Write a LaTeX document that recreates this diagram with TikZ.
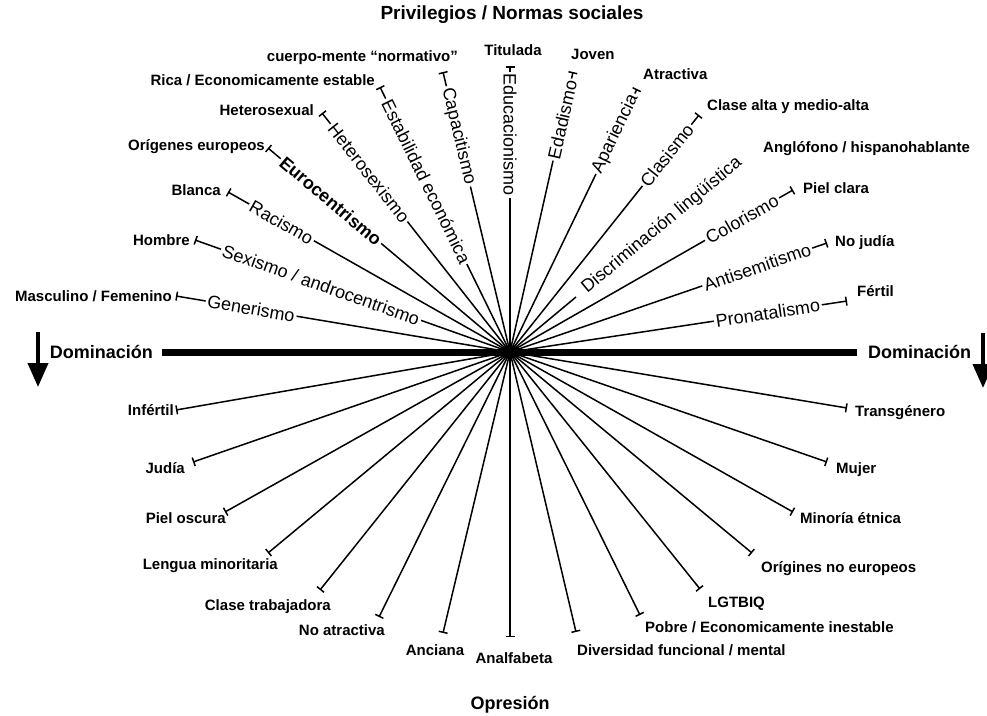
\documentclass[tikz,border=0pt]{standalone}
\usepackage{fontspec}
\setmainfont{Liberation Sans}
\usetikzlibrary{arrows.meta,positioning}

\begin{document}
\begin{tikzpicture}[
  x=1pt, y=-1pt,
  ray/.style={{Bar[width=9pt,line width=1.5pt]}-,line width=1.5pt},
  lab/.style={font=\bfseries\fontsize{15}{18}\selectfont,inner sep=0pt,text height=0.75em,text depth=0.2em,yshift=-3pt},
  rlab/.style={sloped,fill=white,inner sep=2pt,font=\fontsize{18}{20}\selectfont},
  head/.style={font=\bfseries\fontsize{18}{22}\selectfont,inner sep=0pt},
  dom/.style={-{Triangle[width=20pt,length=24pt]},line width=4pt}
]
\useasboundingbox (0,0) rectangle (987,715);
% centre and end points
\coordinate (c) at (510,352);
\coordinate (p1) at (176,296);  \coordinate (p2) at (195,240);
\coordinate (p3) at (228,192);  \coordinate (p4) at (268,148);
\coordinate (p5) at (322,113);  \coordinate (p6) at (380,87);
\coordinate (p7) at (443,72);   \coordinate (p8) at (510,66);
\coordinate (p9) at (573,72);   \coordinate (p10) at (637,89);
\coordinate (p11) at (699,115); \coordinate (p12) at (576,297);
\coordinate (p13) at (793,190); \coordinate (p14) at (827,243);
\coordinate (p15) at (847,301);
\coordinate (q1) at (176,410);  \coordinate (q2) at (193,462);
\coordinate (q3) at (225,512);  \coordinate (q4) at (268,553);
\coordinate (q5) at (320,590);  \coordinate (q6) at (379,617);
\coordinate (q7) at (443,633);  \coordinate (q8) at (510,637);
\coordinate (q9) at (576,632);  \coordinate (q10) at (640,615);
\coordinate (q11) at (700,589); \coordinate (q12) at (752,553);
\coordinate (q13) at (793,512); \coordinate (q14) at (827,462);
\coordinate (q15) at (847,408);
% dominacion axis
\coordinate (dl) at (162,352); \coordinate (dr) at (857,352);
\draw[line width=7pt] (dl) -- (dr);
\node[head,left=9pt of dl] (domL) {Dominación};
\node[head,right=11pt of dr] (domR) {Dominación};
\coordinate (aL1) at (38,332); \coordinate (aL2) at (38,387);
\coordinate (aR1) at (983,333); \coordinate (aR2) at (983,388);
\draw[dom] (aL1) -- (aL2);
\draw[dom] (aR1) -- (aR2);
% privileges (top half)
\draw[ray] (p1) -- node[rlab,pos=.225] {Generismo} (c);
\draw[ray] (p2) -- node[rlab,pos=.40] {Sexismo / androcentrismo} (c);
\draw[ray] (p3) -- node[rlab,pos=.19] {Racismo} (c);
\draw[ray] (p4) -- node[rlab,pos=.26,font=\bfseries\fontsize{18}{20}\selectfont] {Eurocentrismo} (c);
\draw[ray] (p5) -- node[rlab,pos=.25] {Heterosexismo} (c);
\draw[ray] (p6) -- node[rlab,pos=.356] {Estabilidad económica} (c);
\draw[ray] (p7) -- node[rlab,pos=.23] {Capacitismo} (c);
\draw[ray] (p8) -- node[rlab,pos=.24] {Educacionismo} (c);
\draw[ray] (p9) -- node[rlab,pos=.17] {Edadismo} (c);
\draw[ray] (p10) -- node[rlab,pos=.17] {Apariencia} (c);
\draw[ray] (p11) -- node[rlab,pos=.17] {Clasismo} (c);
\draw[line width=1.5pt] (c) -- (p12);
\path (c) -- (p12) node[rlab,pos=1.1,anchor=west] (disc) {Discriminación lingüística};
\draw[ray] (p13) -- node[rlab,pos=.18] {Colorismo} (c);
\draw[ray] (p14) -- node[rlab,pos=.22] {Antisemitismo} (c);
\draw[ray] (p15) -- node[rlab,pos=.235] {Pronatalismo} (c);
% oppression (bottom half)
\foreach \i in {1,...,15} \draw[ray] (q\i) -- (c);
\fill (c) ellipse [x radius=11,y radius=6];
% privilege labels
\node[lab,left=4pt of p1] (masc) {Masculino / Femenino};
\node[lab,left=5pt of p2] (hombre) {Hombre};
\node[lab,left=7pt of p3,yshift=2pt] (blanca) {Blanca};
\node[lab,left=3pt of p4,yshift=3pt] (euro) {Orígenes europeos};
\node[lab,left=8pt of p5,yshift=3pt] (hetero) {Heterosexual};
\node[lab,left=5pt of p6,yshift=7pt] (rica) {Rica / Economicamente estable};
\node[lab,above=11pt of p7,anchor=south east,xshift=15pt] (cuerpo) {cuerpo-mente “normativo”};
\node[lab,above=11pt of p8,xshift=3pt] (titulada) {Titulada};
\node[lab,above=13pt of p9,anchor=south west,xshift=-2pt] (joven) {Joven};
\node[lab,above=10pt of p10,anchor=south west,xshift=6pt] (atractiva) {Atractiva};
\node[lab,right=8pt of p11,yshift=10pt] (alta) {Clase alta y medio-alta};
\node[lab,anchor=west] (anglo) at (763,147) {Anglófono / hispanohablante};
\node[lab,right=10pt of p13,yshift=2pt] (clara) {Piel clara};
\node[lab,right=8pt of p14,yshift=2pt] (nojudia) {No judía};
\node[lab,right=10pt of p15,yshift=10pt] (fertil) {Fértil};
% oppression labels
\node[lab,left=2pt of q1] (infertil) {Infértil};
\node[lab,left=8pt of q2,yshift=-6pt] (judia) {Judía};
\node[lab,left=-1pt of q3,yshift=-6pt] (oscura) {Piel oscura};
\node[lab,below=6pt of q4,anchor=north east,xshift=10pt] (lengua) {Lengua minoritaria};
\node[lab,below=10pt of q5,anchor=north east,xshift=11pt] (trab) {Clase trabajadora};
\node[lab,below=8pt of q6,anchor=north east,xshift=6pt] (noatr) {No atractiva};
\node[lab,below=12pt of q7,xshift=-8pt] (anciana) {Anciana};
\node[lab,below=16pt of q8,xshift=4pt] (analf) {Analfabeta};
\node[lab,below=13pt of q9,anchor=north west,xshift=1pt] (divers) {Diversidad funcional / mental};
\node[lab,below=7pt of q10,anchor=north west,xshift=5pt] (pobre) {Pobre / Economicamente inestable};
\node[lab,below=8pt of q11,anchor=north west,xshift=8pt] (lgtbiq) {LGTBIQ};
\node[lab,below=9pt of q12,anchor=north west,xshift=9pt] (noeuro) {Orígines no europeos};
\node[lab,right=7pt of q13,yshift=-6pt] (minoria) {Minoría étnica};
\node[lab,right=9pt of q14,yshift=-6pt] (mujer) {Mujer};
\node[lab,right=8pt of q15,yshift=-3pt] (trans) {Transgénero};
% titles
\node[head,font=\bfseries\fontsize{19}{22}\selectfont] (top) at (512,15) {Privilegios / Normas sociales};
\node[head] (bot) at (510,705) {Opresión};
\end{tikzpicture}
\end{document}
